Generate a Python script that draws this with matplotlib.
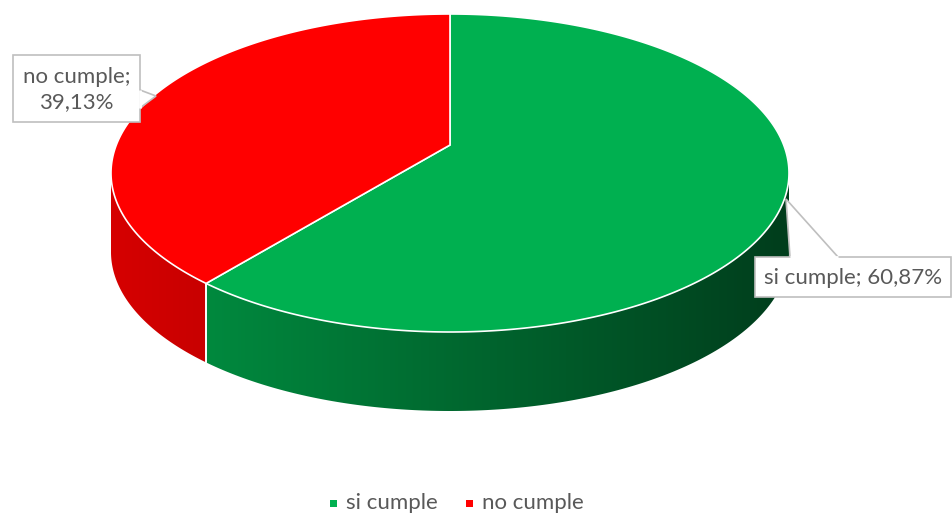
import numpy as np
import matplotlib.pyplot as plt
from matplotlib.colors import to_rgb
from matplotlib.patches import Polygon, Rectangle

# data
labels = ["si cumple", "no cumple"]
values = [60.87, 39.13]
label_text = ["si cumple; 60,87%", "no cumple;\n39,13%"]
top_colors = ["#00b050", "#ff0000"]
side_light = ["#00893e", "#d60000"]
side_dark = ["#003d1c", "#c80000"]

# pie geometry in pixel coords (ellipse centre, radii, wall height)
cx, cy, rx, ry, depth = 450, 173, 339, 159, 79
shift = 28  # how far the pie centre sits above the ellipse centre (perspective)
FONT = "Lato"
TXT = "#595959"

# projective map of the unit circle onto the ellipse
k = shift / ry
a_x = rx * np.sqrt(1 - k ** 2)


def proj(ang, dy=0):
    ang = np.radians(ang)
    u, v = np.cos(ang), np.sin(ang)
    w = 1 + k * v
    return cx + a_x * u / w, cy - (ry * v + shift) / w + dy


pc = proj(np.array(0.0))
pcx, pcy = cx, cy - shift

fig = plt.figure(figsize=(9.53, 5.16), dpi=100)
ax = fig.add_axes([0, 0, 1, 1])
ax.set_xlim(0, 953)
ax.set_ylim(516, 0)
ax.axis('off')

fracs = np.array(values) / sum(values)
starts = 90 - 360 * np.concatenate([[0], np.cumsum(fracs)[:-1]])
ends = starts - 360 * fracs

# visible front wall runs between the leftmost and rightmost ellipse points
side_lo = -180 + np.degrees(np.arcsin(k))
side_hi = -np.degrees(np.arcsin(k))

for i in range(len(values)):
    lo, hi = max(ends[i], side_lo), min(starts[i], side_hi)
    if lo >= hi:
        continue
    t = np.linspace(lo, hi, 200)
    xt, yt = proj(t)
    xb, yb = proj(t[::-1], depth)
    pts = np.column_stack([np.concatenate([xt, xb]), np.concatenate([yt, yb])])
    poly = Polygon(pts, closed=True, facecolor='none', edgecolor='none')
    ax.add_patch(poly)
    c1, c2 = np.array(to_rgb(side_light[i])), np.array(to_rgb(side_dark[i]))
    g = np.linspace(0, 1, 256)[None, :, None]
    img = c1 * (1 - g) + c2 * g
    x0, x1 = pts[:, 0].min(), pts[:, 0].max()
    y0, y1 = pts[:, 1].min(), pts[:, 1].max()
    im = ax.imshow(img, extent=[x0, x1, y1, y0], aspect='auto', zorder=1)
    im.set_clip_path(poly)
    for a in (lo, hi):
        if side_lo < a < side_hi:
            xa, ya = proj(a)
            ax.plot([xa, xa], [ya, ya + depth], color='white', lw=1.2, zorder=2)

# top wedges
for i in range(len(values)):
    t = np.linspace(starts[i], ends[i], 300)
    xt, yt = proj(t)
    pts = np.column_stack([np.concatenate([[pcx], xt]), np.concatenate([[pcy], yt])])
    ax.add_patch(Polygon(pts, closed=True, facecolor=top_colors[i],
                         edgecolor='white', lw=1.2, zorder=3))


# callout labels
def callout(box, tip, base, text):
    x0, y0, x1, y1 = box
    ax.add_patch(Rectangle((x0, y0), x1 - x0, y1 - y0, facecolor='white',
                           edgecolor='#bfbfbf', lw=1.2, zorder=5))
    ax.add_patch(Polygon([base[0], tip, base[1]], closed=False, facecolor='white',
                         edgecolor='#bfbfbf', lw=1.2, zorder=5))
    ax.plot([base[0][0], base[1][0]], [base[0][1], base[1][1]], color='white',
            lw=2, zorder=6, solid_capstyle='butt')
    ax.text((x0 + x1) / 2, (y0 + y1) / 2 + 1, text, ha='center', va='center',
            fontsize=16, color=TXT, family=FONT, linespacing=1.3, zorder=7)


callout((13, 55, 140, 122), (156, 96), [(140, 90), (140, 108)], label_text[1])
callout((755, 257, 951, 297), (786, 199), [(790, 257), (838, 257)], label_text[0])

# legend
lx = [330, 466]
for i in range(len(labels)):
    ax.add_patch(Rectangle((lx[i], 500), 7, 7, facecolor=top_colors[i],
                           edgecolor='none'))
    ax.text(lx[i] + 16, 503, labels[i], ha='left', va='center', fontsize=16,
            color=TXT, family=FONT)

fig.savefig("out.png", dpi=100)
